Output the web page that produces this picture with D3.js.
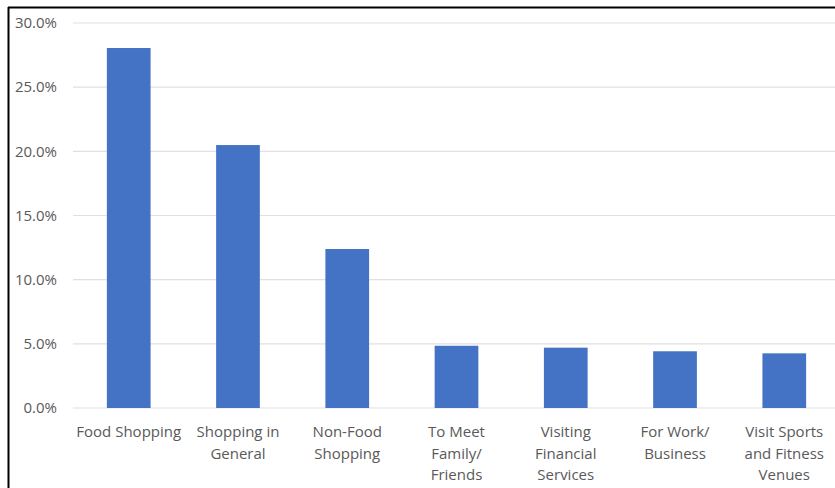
<!DOCTYPE html>
<html>
<head>
<meta charset="utf-8">
<script src="https://d3js.org/d3.v7.min.js"></script>
<style>
  body { margin: 0; background: #fff; }
  svg { display: block; }
  text { font-family: "Open Sans", "Noto Sans", sans-serif; fill: #595959; }
</style>
</head>
<body>
<svg id="chart"></svg>
<script>
// chart data
const categories = [
    ["Food Shopping"],
    ["Shopping in", "General"],
    ["Non-Food", "Shopping"],
    ["To Meet", "Family/", "Friends"],
    ["Visiting", "Financial", "Services"],
    ["For Work/", "Business"],
    ["Visit Sports", "and Fitness", "Venues"]
];
const values = [0.2805, 0.2049, 0.1239, 0.0485, 0.0470, 0.0442, 0.0426];
const yTicks = [0, 0.05, 0.10, 0.15, 0.20, 0.25, 0.30];

const width = 835, height = 488;
const margin = { left: 73, top: 23, bottom: 80, right: 0 };
const plotW = 767, plotH = 385;

const svg = d3.select("#chart")
    .attr("width", width)
    .attr("height", height);

const keys = categories.map(c => c.join(" "));

const xScale = d3.scaleBand()
    .domain(keys)
    .range([0, plotW])
    .paddingInner(0.6)
    .paddingOuter(0.31);

const yScale = d3.scaleLinear()
    .domain([0, 0.30])
    .range([plotH, 0]);

const g = svg.append("g")
    .attr("transform", "translate(" + margin.left + "," + margin.top + ")");

// gridlines
g.selectAll(".grid")
    .data(yTicks)
    .join("line")
    .attr("class", "grid")
    .attr("x1", 0)
    .attr("x2", plotW)
    .attr("y1", d => yScale(d))
    .attr("y2", d => yScale(d))
    .attr("stroke", "#e0e0e0")
    .attr("stroke-width", 1.2);

// y axis labels
const yAxis = d3.axisLeft(yScale)
    .tickValues(yTicks)
    .tickFormat(d3.format(".1%"))
    .tickSize(0)
    .tickPadding(16);
g.append("g")
    .attr("id", "y-axis")
    .call(yAxis)
    .call(s => s.select(".domain").remove())
    .selectAll("text")
    .style("font-size", "15px")
    .attr("fill", "#595959");

// bars
g.selectAll(".bar")
    .data(values)
    .join("rect")
    .attr("class", "bar")
    .attr("x", (d, i) => xScale(keys[i]))
    .attr("width", xScale.bandwidth())
    .attr("y", d => yScale(d))
    .attr("height", d => plotH - yScale(d))
    .attr("fill", "#4472c4");

// x labels (multi-line)
const labels = g.selectAll(".xlabel")
    .data(categories)
    .join("text")
    .attr("class", "xlabel")
    .attr("text-anchor", "middle")
    .attr("transform", (d, i) => "translate(" + (xScale(keys[i]) + xScale.bandwidth() / 2) + "," + (plotH + 29) + ")")
    .style("font-size", "15px");
labels.selectAll("tspan")
    .data(d => d)
    .join("tspan")
    .attr("x", 0)
    .attr("dy", (d, i) => i === 0 ? 0 : 21.5)
    .text(d => d);

// outer border (top and left)
svg.append("line")
    .attr("x1", 8).attr("x2", width)
    .attr("y1", 7.5).attr("y2", 7.5)
    .attr("stroke", "#000").attr("stroke-width", 2);
svg.append("line")
    .attr("x1", 8.5).attr("x2", 8.5)
    .attr("y1", 7).attr("y2", height)
    .attr("stroke", "#000").attr("stroke-width", 2);
</script>
</body>
</html>
